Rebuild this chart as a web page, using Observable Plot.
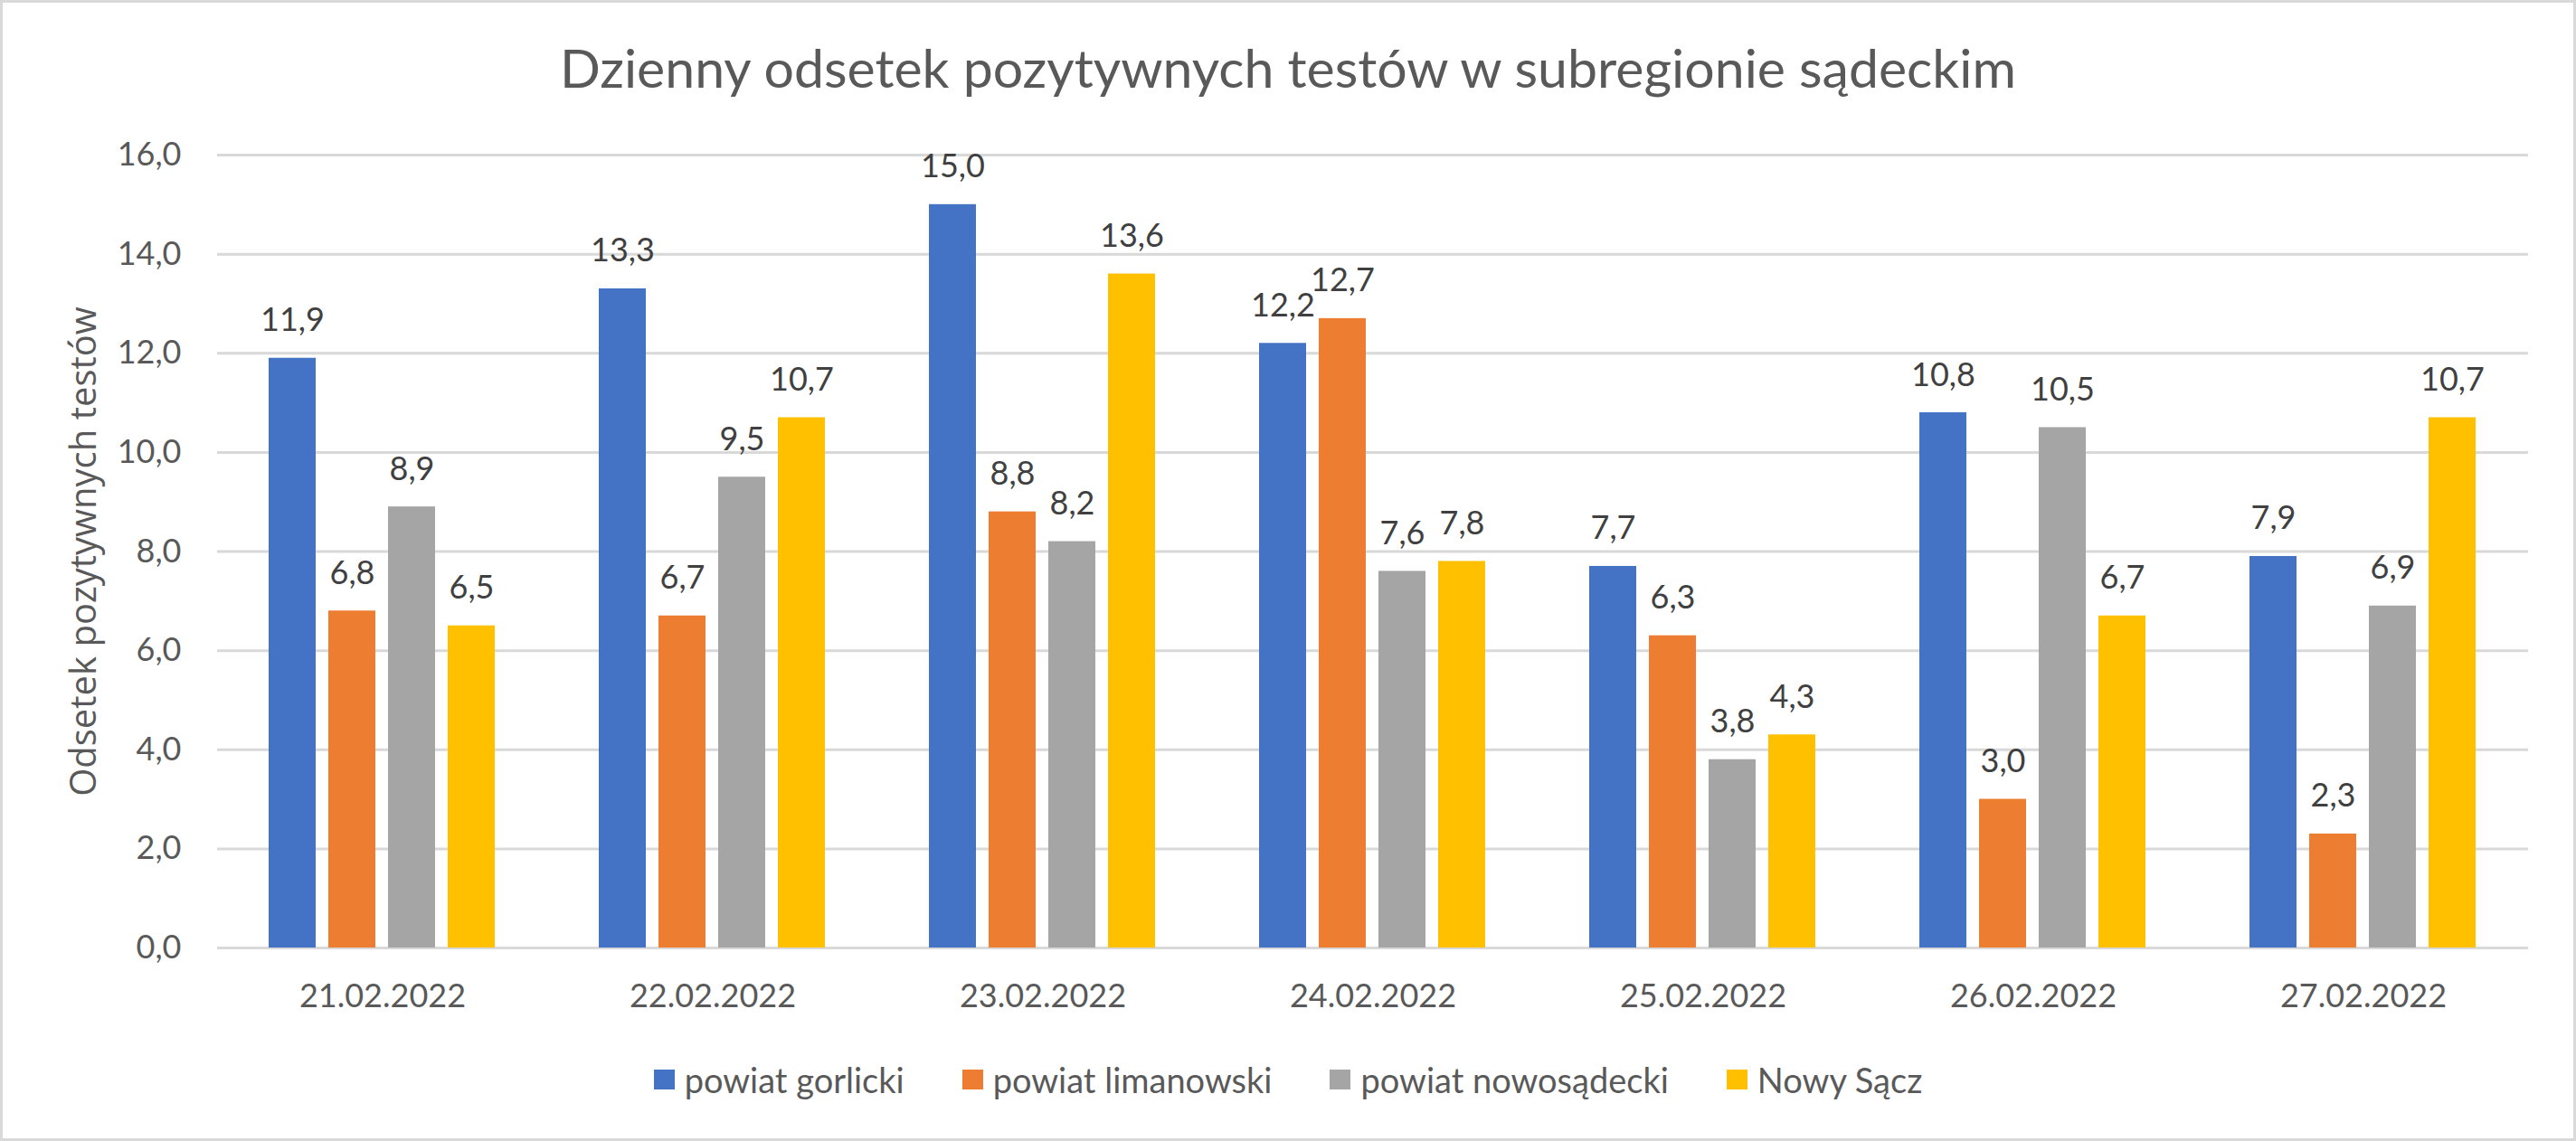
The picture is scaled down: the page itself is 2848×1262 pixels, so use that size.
<!DOCTYPE html>
<html lang="pl">
<head>
<meta charset="utf-8">
<script src="https://cdn.jsdelivr.net/npm/d3@7"></script>
<script src="https://cdn.jsdelivr.net/npm/@observablehq/plot@0.6"></script>
<style>
  html, body { margin: 0; padding: 0; background: #fff; }
  #chart { position: relative; width: 2848px; height: 1262px; overflow: hidden; font-family: Lato, "Open Sans", sans-serif; }
  #frame { position: absolute; inset: 0; border: 3px solid #d9d9d9; box-sizing: border-box; pointer-events: none; }
  #title { position: absolute; left: 0; width: 2848px; top: 45px; text-align: center; font-size: 59px; line-height: 1; color: #595959; white-space: nowrap; }
  #ytitle { position: absolute; left: 91px; top: 610px; transform: translate(-50%, -50%) rotate(-90deg); font-family: "Open Sans", Lato, sans-serif; font-size: 40px; line-height: 1; color: #595959; white-space: nowrap; }
  #plot { position: absolute; left: 0; top: 120px; }
  #legend { position: absolute; left: 0; width: 2848px; top: 1175px; display: flex; justify-content: center; align-items: center; gap: 64px; font-size: 38px; line-height: 38px; color: #595959; }
  .item { display: flex; align-items: center; gap: 11px; }
  .swatch { width: 23px; height: 22px; display: inline-block; }
</style>
</head>
<body>
<div id="chart">
  <div id="title">Dzienny odsetek pozytywnych testów w subregionie sądeckim</div>
  <div id="ytitle">Odsetek pozytywnych testów</div>
  <div id="plot"></div>
  <div id="legend"></div>
  <div id="frame"></div>
</div>
<script>
// Dates on the category axis
const dates = ["21.02.2022", "22.02.2022", "23.02.2022", "24.02.2022", "25.02.2022", "26.02.2022", "27.02.2022"];

// Series names and colours
const seriesNames = ["powiat gorlicki", "powiat limanowski", "powiat nowosądecki", "Nowy Sącz"];
const seriesColors = ["#4472C4", "#ED7D31", "#A5A5A5", "#FFC000"];

// Daily share of positive tests (%) per area
const gorlicki    = [11.9, 13.3, 15.0, 12.2, 7.7, 10.8, 7.9];
const limanowski  = [6.8, 6.7, 8.8, 12.7, 6.3, 3.0, 2.3];
const nowosadecki = [8.9, 9.5, 8.2, 7.6, 3.8, 10.5, 6.9];
const nowySacz    = [6.5, 10.7, 13.6, 7.8, 4.3, 6.7, 10.7];

// Y axis ticks
const yTicks = [0, 2, 4, 6, 8, 10, 12, 14, 16];

const seriesValues = [gorlicki, limanowski, nowosadecki, nowySacz];
const rows = dates.flatMap((date, i) =>
  seriesNames.map((series, j) => ({date, series, value: seriesValues[j][i]}))
);

const fmt = (v) => v.toFixed(1).replace(".", ",");

const chart = Plot.plot({
  width: 2848,
  height: 1030,
  marginLeft: 239,
  marginRight: 53,
  marginTop: 51,
  marginBottom: 102,
  style: {fontFamily: "Lato, 'Open Sans', sans-serif", fontSize: "36px", color: "#595959", background: "transparent", overflow: "visible"},
  fx: {domain: dates, padding: 0, label: null, axis: "bottom", tickSize: 0, tickPadding: 40},
  x: {domain: seriesNames, paddingInner: 0.21, paddingOuter: 0.86, axis: null},
  y: {domain: [0, 16], ticks: yTicks, tickFormat: fmt, tickSize: 0, tickPadding: 40, label: null},
  color: {domain: seriesNames, range: seriesColors},
  marks: [
    Plot.ruleY(yTicks, {stroke: "#d9d9d9", strokeWidth: 3}),
    Plot.barY(rows, {fx: "date", x: "series", y: "value", fill: "series"}),
    Plot.text(rows, {fx: "date", x: "series", y: "value", text: (d) => fmt(d.value), lineAnchor: "bottom", dy: -30, fill: "#404040", fontSize: 36})
  ]
});
document.getElementById("plot").appendChild(chart);

// Legend below the chart
const legend = document.getElementById("legend");
seriesNames.forEach((name, i) => {
  const item = document.createElement("div");
  item.className = "item";
  const sw = document.createElement("span");
  sw.className = "swatch";
  sw.style.background = seriesColors[i];
  const label = document.createElement("span");
  label.textContent = name;
  item.appendChild(sw);
  item.appendChild(label);
  legend.appendChild(item);
});
</script>
</body>
</html>
